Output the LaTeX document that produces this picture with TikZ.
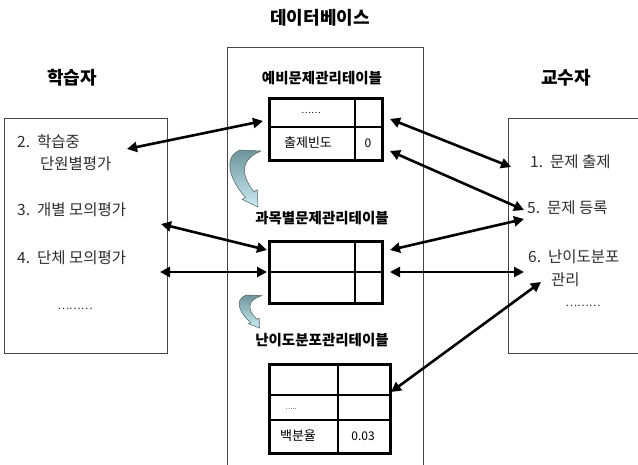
\documentclass[tikz,border=0pt]{standalone}
\usepackage{fontspec}
\setmainfont{Noto Sans CJK KR}
\usetikzlibrary{arrows.meta}
\definecolor{txt}{RGB}{45,45,45}
\definecolor{framegray}{RGB}{70,70,70}
\definecolor{cTop}{RGB}{110,148,155}
\definecolor{cBot}{RGB}{200,236,242}
\definecolor{cEdge}{RGB}{80,95,100}
\tikzset{
  curv/.pic={
    \shade[top color=cTop, bottom color=cBot, draw=cEdge, line width=0.5pt]
      (28,0) -- (7,-1) .. controls (-14,8) and (2,36) .. (12.6,46.3) -- (9.3,48.5) -- (25,56)
      -- (24.2,38.6) -- (20.9,40.8) .. controls (16,34) and (-1,12) .. (28,0) -- cycle;
  }
}
\begin{document}
\begin{tikzpicture}[x=1pt,y=-1pt,
  title/.style={font=\fontsize{18}{20}\selectfont\bfseries, inner sep=0},
  ttitle/.style={font=\fontsize{14.5}{16}\selectfont\bfseries, inner sep=0},
  body/.style={font=\fontsize{15.5}{17}\selectfont, text=txt, inner sep=0, anchor=west},
  cell/.style={font=\fontsize{13}{14}\selectfont, inner sep=0},
  frame/.style={draw=framegray, line width=0.9pt},
  tbl/.style={draw=black, line width=2.8pt, inner sep=0, anchor=north west},
  grid/.style={draw=black, line width=1.1pt},
  dbl/.style={line width=2.6pt, {Triangle[length=10pt,width=10pt]}-{Triangle[length=10pt,width=10pt]}},
]
\useasboundingbox (0,0) rectangle (638,465);

% titles
\node[title] (tdb) at (320,18) {데이터베이스};
\node[title] (tl) at (72,78) {학습자};
\node[title] (tr) at (566,78) {교수자};

% frames
\draw[frame] (227,470) -- (227,47) -- (423,47) -- (423,470);
\node[frame, anchor=north west, minimum width=163pt, minimum height=235pt, inner sep=0] (lbox) at (4,118) {};
\draw[frame] (640,118) -- (508,118) -- (508,353) -- (640,353);

% left texts
\node[body] (l2) at (17,142) {2.\ \ 학습중};
\node[body] (l2b) at (40,164) {단원별평가};
\node[body] (l3) at (17,210) {3.\ \ 개별 모의평가};
\node[body] (l4) at (17,258) {4.\ \ 단체 모의평가};
\node[font=\fontsize{11}{12}\selectfont, text=txt, inner sep=0] (ld) at (75,309) {………};

% right texts
\node[body] (r1) at (530,162) {1.\ \ 문제 출제};
\node[body] (r5) at (527,208) {5.\ \ 문제 등록};
\node[body] (r6) at (528,257) {6.\ \ 난이도분포};
\node[body] (r6b) at (551,280) {관리};
\node[font=\fontsize{11}{12}\selectfont, text=txt, inner sep=0] (rd) at (583,306) {………};

% table titles
\node[ttitle] (h1) at (322,78) {예비문제관리테이블};
\node[ttitle] (h2) at (322,218) {과목별문제관리테이블};
\node[ttitle] (h3) at (322,340) {난이도분포관리테이블};

% table 1
\draw[grid] (268,127) -- (381,127);
\draw[grid] (355,97) -- (355,159);
\node[tbl, minimum width=113pt, minimum height=62pt] (t1) at (268,97) {};
\node[font=\fontsize{9}{10}\selectfont, inner sep=0] (t1a) at (311,113) {……};
\node[cell] (t1b) at (308,143) {출제빈도};
\node[font=\fontsize{12}{13}\selectfont, inner sep=0] (t1c) at (368,143) {0};

% table 2
\draw[grid] (268,272) -- (381,272);
\draw[grid] (355,240) -- (355,302);
\node[tbl, minimum width=113pt, minimum height=62pt] (t2) at (268,240) {};

% table 3
\draw[grid] (268,395) -- (389,395);
\draw[grid] (268,420) -- (389,420);
\draw[grid] (338,363) -- (338,452);
\node[tbl, minimum width=121pt, minimum height=89pt] (t3) at (268,363) {};
\node[font=\fontsize{7}{8}\selectfont, inner sep=0] (t3a) at (291,409) {…..};
\node[cell] (t3b) at (298,436) {백분율};
\node[font=\fontsize{12}{13}\selectfont, inner sep=0] (t3c) at (363,436) {0.03};

% curved arrows
\pic at (233,151) {curv};
\pic[xscale=0.73, yscale=0.58] at (241.5,295.6) {curv};

% connector end points
\coordinate (a1s) at (127,149);
\coordinate (a1e) at (263,121);
\coordinate (a2s) at (390,119);
\coordinate (a2e) at (511,167);
\coordinate (a3s) at (390,151);
\coordinate (a3e) at (524,210);
\coordinate (a4s) at (390,250);
\coordinate (a4e) at (524,219);
\coordinate (a5s) at (161,224);
\coordinate (a5e) at (267,250);
\coordinate (a6s) at (160,272);
\coordinate (a6e) at (267,272);
\coordinate (a7s) at (390,272);
\coordinate (a7e) at (524,272);
\coordinate (a8s) at (391,392);
\coordinate (a8e) at (541,282);

\draw[dbl] (a1s) -- (a1e);
\draw[dbl] (a2s) -- (a2e);
\draw[dbl] (a3s) -- (a3e);
\draw[dbl] (a4s) -- (a4e);
\draw[dbl] (a5s) -- (a5e);
\draw[dbl] (a6s) -- (a6e);
\draw[dbl] (a7s) -- (a7e);
\draw[dbl] (a8s) -- (a8e);
\end{tikzpicture}
\end{document}
